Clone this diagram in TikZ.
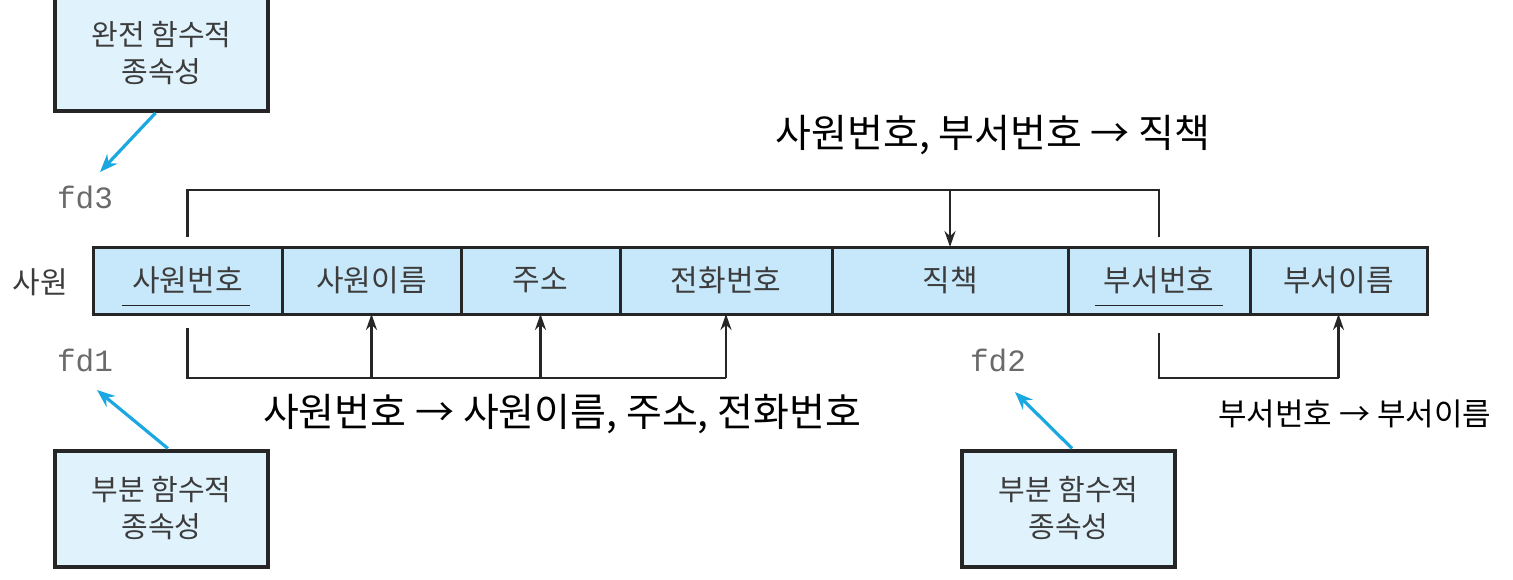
\documentclass[tikz,border=0pt]{standalone}
\usepackage{fontspec}
\setmainfont{Noto Sans CJK KR}
\newfontfamily\monof{Liberation Mono}
\usetikzlibrary{arrows.meta}
\definecolor{cellblue}{HTML}{C7E8FA}
\definecolor{boxblue}{HTML}{E0F2FC}
\definecolor{arrblue}{HTML}{1BA8E0}
\definecolor{txtgray}{HTML}{3C3C3C}
\definecolor{fdgray}{HTML}{6A6A6A}
\tikzset{
  cell/.style={draw=black!85, line width=1.5pt, fill=cellblue, minimum height=33.5pt, inner sep=0pt, outer sep=0pt, text=txtgray, font=\fontsize{15}{17}\selectfont},
  fdbox/.style={draw=black!85, line width=2pt, fill=boxblue, minimum width=106.5pt, minimum height=58pt, align=center, text=txtgray, font=\fontsize{14.5}{18.5}\selectfont},
  fdlabel/.style={text=fdgray, font=\monof\fontsize{15.5}{17}\selectfont, inner sep=0pt},
  br/.style={draw=black!85, line width=1.2pt},
  arr/.style={br, -{Stealth[length=8pt,width=5.5pt]}},
  bluearr/.style={draw=arrblue, line width=1.6pt, -{Stealth[length=9pt,width=7pt]}},
  hand/.style={text=black, inner sep=0pt},
  ul/.style={draw=black!85, line width=0.9pt}
}
\begin{document}
\begin{tikzpicture}[x=0.5pt,y=-0.5pt]
\useasboundingbox (0,0) rectangle (1513,579);
% table
\node[cell, minimum width=94.5pt] (c1) at (187.5,280.5) {사원번호};
\node[cell, minimum width=89.5pt] (c2) at (371.5,280.5) {사원이름};
\node[cell, minimum width=79.5pt] (c3) at (540.5,280.5) {주소};
\node[cell, minimum width=106pt] (c4) at (726,280.5) {전화번호};
\node[cell, minimum width=118pt] (c5) at (950,280.5) {직책};
\node[cell, minimum width=91pt] (c6) at (1159,280.5) {부서번호};
\node[cell, minimum width=88.5pt] (c7) at (1338.5,280.5) {부서이름};
\node[text=txtgray, font=\fontsize{15}{17}\selectfont] (rel) at (40,282) {사원};
% underlines of keys
\draw[ul] ([xshift=-33pt,yshift=-12.5pt]c1.center) -- ([xshift=31pt,yshift=-12.5pt]c1.center);
\draw[ul] ([xshift=-32pt,yshift=-12.5pt]c6.center) -- ([xshift=32pt,yshift=-12.5pt]c6.center);
% levels
\coordinate (top) at (0,190);
\coordinate (bot) at (0,378);
% fd3 bracket
\draw[br] ([yshift=5pt]c1.north) -- (c1.north |- top) -| ([yshift=5pt]c6.north);
\draw[arr] (c5.north |- top) -- (c5.north);
% fd1 bracket
\draw[br] ([yshift=-7pt]c1.south) |- (c4.south |- bot);
\draw[arr] (c2.south |- bot) -- (c2.south);
\draw[arr] (c3.south |- bot) -- (c3.south);
\draw[arr] (c4.south |- bot) -- (c4.south);
% fd2 bracket
\draw[br] ([yshift=-9.5pt]c6.south) |- (c7.south |- bot);
\draw[arr] (c7.south |- bot) -- (c7.south);
% fd labels
\node[fdlabel] (fd3) at (85,197) {fd3};
\node[fdlabel] (fd1) at (85,360) {fd1};
\node[fdlabel] (fd2) at (998,360) {fd2};
% boxes
\node[fdbox] (b3) at (161.5,53) {완전 함수적\\종속성};
\node[fdbox] (b1) at (161.5,508.5) {부분 함수적\\종속성};
\node[fdbox] (b2) at (1068.5,508.5) {부분 함수적\\종속성};
\coordinate (t3) at (100,172);
\coordinate (t1) at (97,390);
\coordinate (t2) at (1015,392);
\draw[bluearr] ([xshift=-3pt]b3.south) -- (t3);
\draw[bluearr] ([xshift=3.2pt]b1.north) -- (t1);
\draw[bluearr] ([xshift=1.8pt]b2.north) -- (t2);
% handwritten annotations
\node[hand, font=\fontsize{19.5}{22}\selectfont] (h3) at (993,135) {사원번호, 부서번호 → 직책};
\node[hand, font=\fontsize{19.5}{22}\selectfont] (h1) at (562,414) {사원번호 → 사원이름, 주소, 전화번호};
\node[hand, font=\fontsize{15.5}{18}\selectfont, anchor=west] (h2) at (1218,414) {부서번호 → 부서이름};
\end{tikzpicture}
\end{document}
